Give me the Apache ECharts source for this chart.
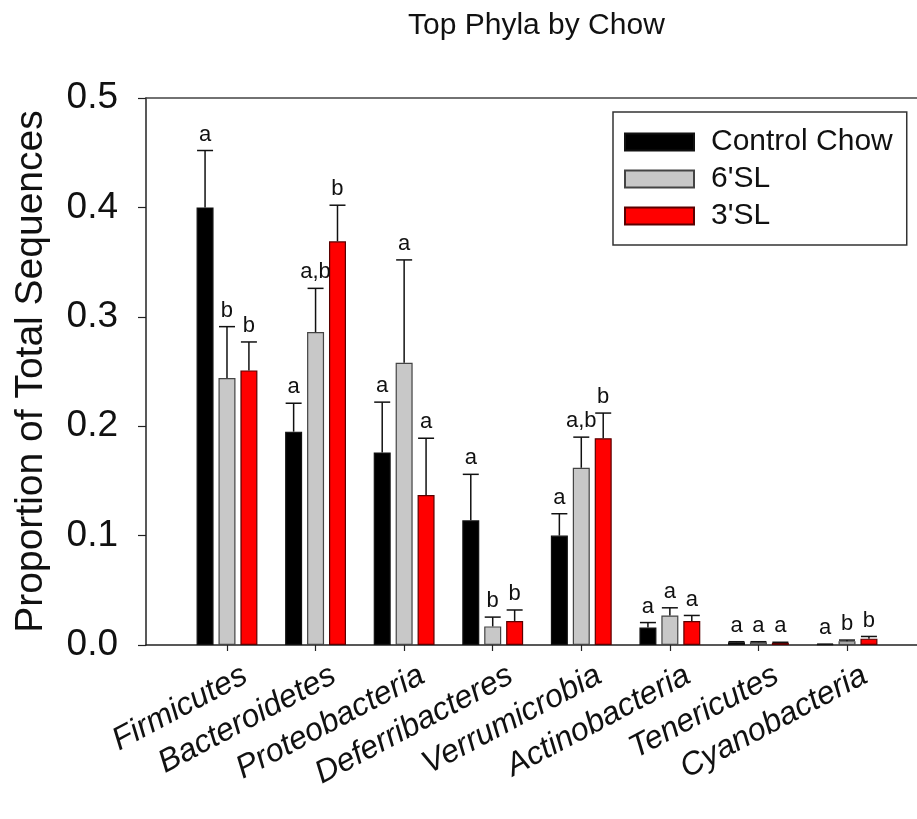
<!DOCTYPE html>
<html>
<head>
<meta charset="utf-8">
<script src="https://cdn.jsdelivr.net/npm/echarts@6/dist/echarts.min.js"></script>
<style>html,body{margin:0;padding:0;background:#fff}#c{width:917px;height:819px}</style>
</head>
<body>
<div id="c"></div>
<script>
const categories = ['Firmicutes','Bacteroidetes','Proteobacteria','Deferribacteres','Verrumicrobia','Actinobacteria','Tenericutes','Cyanobacteria'];
const seriesNames = ['Control Chow', "6'SL", "3'SL"];
const controlMean = [0.400, 0.195, 0.176, 0.114, 0.100, 0.016, 0.0025, 0.0005];
const controlErr  = [0.052, 0.026, 0.046, 0.042, 0.020, 0.0045, 0.0005, 0.0003];
const sl6Mean     = [0.244, 0.286, 0.258, 0.017, 0.162, 0.027, 0.0025, 0.0035];
const sl6Err      = [0.047, 0.040, 0.094, 0.0085, 0.028, 0.007, 0.0005, 0.001];
const sl3Mean     = [0.251, 0.369, 0.137, 0.022, 0.189, 0.022, 0.002, 0.0058];
const sl3Err      = [0.026, 0.033, 0.052, 0.010, 0.023, 0.005, 0.0005, 0.002];
const controlLetters = ['a','a','a','a','a','a','a','a'];
const sl6Letters     = ['b','a,b','a','b','a,b','a','a','b'];
const sl3Letters     = ['b','b','a','b','b','a','a','b'];
const yTicks = [0, 0.1, 0.2, 0.3, 0.4, 0.5];

const means = [controlMean, sl6Mean, sl3Mean];
const errs = [controlErr, sl6Err, sl3Err];
const letters = [controlLetters, sl6Letters, sl3Letters];
const fills = ['#000000', '#c8c8c8', '#ff0000'];
const borders = ['#111111', '#444444', '#5a0000'];
const barW = 17, barGap = 0.29;
const FONT = 'Liberation Sans, Arial, sans-serif';

const chart = echarts.init(document.getElementById('c'), null, {renderer: 'canvas'});

const barSeries = seriesNames.map((n, s) => ({
  name: n, type: 'bar', xAxisIndex: 2, yAxisIndex: 1,
  data: means[s], barWidth: barW, barGap: (barGap*100)+'%',
  itemStyle: {color: fills[s], borderColor: borders[s], borderWidth: 1.2},
  emphasis: {disabled: true}, z: 2
}));

const errSeries = seriesNames.map((n, s) => ({
  name: n + ' err', type: 'custom', xAxisIndex: 2, yAxisIndex: 1, z: 3,
  data: categories.map((c, i) => [i, means[s][i], means[s][i] + errs[s][i], letters[s][i]]),
  encode: {x: 0, y: [1, 2]},
  renderItem: function (params, api) {
    const off = (s - 1) * barW * (1 + barGap);
    const p0 = api.coord([api.value(0), api.value(1)]);
    const p1 = api.coord([api.value(0), api.value(2)]);
    const x = p0[0] + off;
    const st = {stroke: '#111', lineWidth: 1.5};
    return {
      type: 'group',
      children: [
        {type: 'line', shape: {x1: x, y1: p0[1], x2: x, y2: p1[1]}, style: st},
        {type: 'line', shape: {x1: x - 8, y1: p1[1], x2: x + 8, y2: p1[1]}, style: st},
        {type: 'text', style: {text: api.value(3), x: x, y: p1[1] - 5, align: 'center', verticalAlign: 'bottom',
          font: '22px ' + FONT, fill: '#111'}}
      ]
    };
  }
}));

chart.setOption({
  animation: false,
  title: {text: 'Top Phyla by Chow', left: 403, top: 6,
    textStyle: {fontFamily: FONT, fontSize: 30, fontWeight: 'normal', color: '#111'}},
  legend: {
    data: seriesNames, orient: 'vertical', left: 613, top: 112,
    padding: [15, 14, 14, 11], itemWidth: 69, itemHeight: 17, itemGap: 7,
    borderColor: '#333', borderWidth: 1.5, icon: 'rect',
    textStyle: {fontFamily: FONT, fontSize: 30, lineHeight: 30, color: '#111', padding: [0,0,0,12]}
  },
  grid: [
    {left: 146, right: 0, top: 98, bottom: 174},
    {left: 182.7, right: 25.7, top: 98, bottom: 174}
  ],
  xAxis: [
    {type: 'value', gridIndex: 0, position: 'bottom', min: 0, max: 1, axisLine: {show: true, lineStyle: {color: '#222', width: 1.5}},
      axisTick: {show: false}, axisLabel: {show: false}, splitLine: {show: false}},
    {type: 'value', gridIndex: 0, position: 'top', min: 0, max: 1, axisLine: {show: true, lineStyle: {color: '#444', width: 1.5}},
      axisTick: {show: false}, axisLabel: {show: false}, splitLine: {show: false}},
    {type: 'category', gridIndex: 1, data: categories, position: 'bottom',
      axisLine: {show: false}, axisTick: {show: true, alignWithLabel: true, length: 6, lineStyle: {color: '#222', width: 1.2}},
      axisLabel: {rotate: 28, interval: 0, margin: 20, verticalAlign: 'top', padding: [0, -12, 0, 0],
        fontFamily: FONT, fontSize: 32, fontStyle: 'italic', color: '#111'}}
  ],
  yAxis: [
    {type: 'value', gridIndex: 0, min: 0, max: 0.5, interval: 0.1,
      name: 'Proportion of Total Sequences', nameLocation: 'middle', nameGap: 95,
      nameTextStyle: {fontFamily: FONT, fontSize: 39, color: '#111'},
      axisLine: {show: true, lineStyle: {color: '#222', width: 1.5}},
      axisTick: {show: true, inside: false, length: 8, lineStyle: {color: '#222', width: 1.2}},
      axisLabel: {margin: 28, fontFamily: FONT, fontSize: 37, color: '#111',
        formatter: v => yTicks.indexOf(+v.toFixed(1)) >= 0 ? v.toFixed(1) : ''},
      splitLine: {show: false}},
    {type: 'value', gridIndex: 1, min: 0, max: 0.5, interval: 0.1, show: false, splitLine: {show: false}}
  ],
  series: barSeries.concat(errSeries)
});
</script>
</body>
</html>
